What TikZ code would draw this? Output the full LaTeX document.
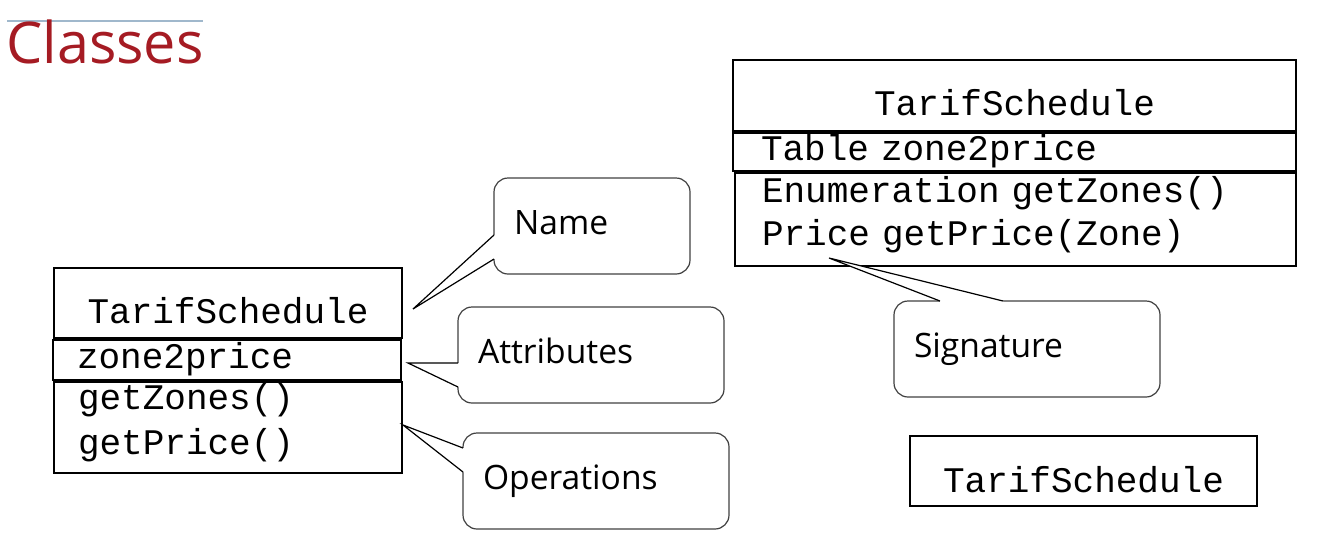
\documentclass[tikz,border=0pt]{standalone}
\usepackage{fontspec}
\setmainfont{Open Sans}
\setmonofont{Liberation Mono}
\usetikzlibrary{calc}
\definecolor{titlered}{RGB}{165,27,35}
\definecolor{rulegray}{RGB}{160,184,204}
\definecolor{edgegray}{RGB}{64,64,64}

\begin{document}
\begin{tikzpicture}[x=1pt,y=-1pt,
comp/.style={draw,line width=2.4pt,outer sep=0pt,inner ysep=0pt,anchor=north west,font=\fontsize{36}{44}\selectfont\ttfamily},
callout/.style={draw=edgegray,line width=1.2pt,rounded corners=14pt,outer sep=0pt,inner ysep=0pt,inner xsep=20pt,text width=226pt,text height=56pt,text depth=40pt,align=left,anchor=north west,font=\fontsize{33.6}{40}\selectfont},
pointer/.style={line width=1.2pt}]
\useasboundingbox (0,0) rectangle (1337,536);

% title
\draw[rulegray,line width=1.5pt] (7,21) -- (203,21);
\node[font=\fontsize{57.5}{62}\selectfont,text=titlered,anchor=base west,inner sep=0pt] (title) at (6,63) {Classes};

% left class
\node[comp,text width=300pt,inner xsep=24pt,align=center,text height=55pt,text depth=15pt] (lname) at (54,268) {TarifSchedule};
\node[comp,text width=300pt,inner xsep=24pt,align=left,text height=28pt,text depth=12pt] (lattr) at (53,340) {zone2price};
\node[comp,text width=300pt,inner xsep=24pt,align=left,text height=27pt,text depth=64pt,font=\fontsize{36}{45}\selectfont\ttfamily] (lops) at (54,382) {getZones()\\getPrice()};

% right class
\node[comp,text width=507pt,inner xsep=28pt,align=center,text height=55pt,text depth=16pt] (rname) at (733,60) {TarifSchedule};
\node[comp,text width=507pt,inner xsep=28pt,align=left,text height=27pt,text depth=11pt] (rattr) at (733,133) {Table zone2price};
\node[comp,text width=507pt,inner xsep=27pt,align=left,text height=29pt,text depth=64pt,font=\fontsize{36}{43}\selectfont\ttfamily] (rops) at (735,173) {Enumeration getZones()\\Price getPrice(Zone)};

% compact class
\node[comp,text width=291pt,inner xsep=28pt,align=center,text height=56pt,text depth=14pt] (compact) at (910,436) {TarifSchedule};

% callouts
\node[callout,text width=156pt] (name) at (494,178) {Name};
\node[callout] (attr) at (458,307) {Attributes};
\node[callout] (ops) at (463,433) {Operations};
\node[callout] (sig) at (894,301) {Signature};

\coordinate (name-tip) at (413,309);
\coordinate (name-a) at ($(name.north west)+(0,57)$);
\coordinate (name-b) at ($(name.north west)+(0,81)$);
\coordinate (attr-tip) at (408,363);
\coordinate (attr-a) at ($(attr.north west)+(0,56)$);
\coordinate (attr-b) at ($(attr.north west)+(0,80)$);
\coordinate (ops-tip) at (403,425);
\coordinate (ops-a) at ($(ops.north west)+(0,15)$);
\coordinate (ops-b) at ($(ops.north west)+(0,39)$);
\coordinate (sig-tip) at (829,258);
\coordinate (sig-a) at ($(sig.north west)+(46,0)$);
\coordinate (sig-b) at ($(sig.north west)+(109,0)$);

\foreach \c/\dx/\dy in {name/2/0,attr/2/0,ops/2/0,sig/0/2}{
  \fill[white] ($(\c-a)+(\dx,\dy)$) -- (\c-a) -- (\c-tip) -- (\c-b) -- ($(\c-b)+(\dx,\dy)$) -- cycle;
  \draw[pointer] (\c-a) -- (\c-tip) -- (\c-b);
}
\end{tikzpicture}
\end{document}
